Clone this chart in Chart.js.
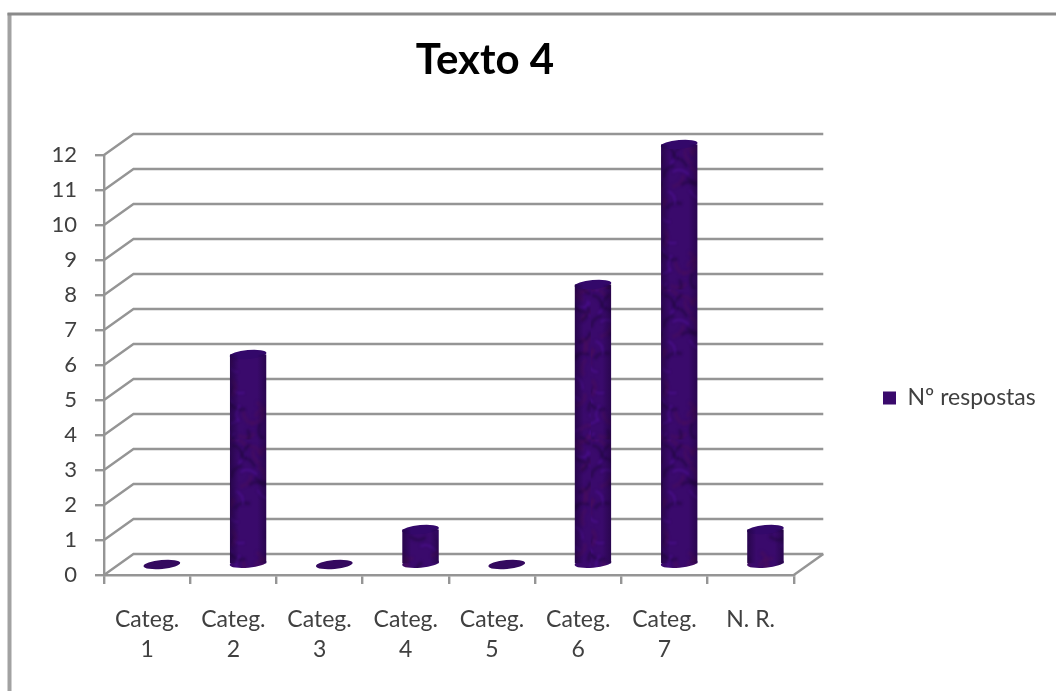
<!DOCTYPE html>
<html lang="pt">
<head>
<meta charset="utf-8">
<title>Texto 4</title>
<script src="https://cdn.jsdelivr.net/npm/chart.js@4/dist/chart.umd.min.js"></script>
<style>
  html, body { margin: 0; padding: 0; background: #fff; }
  #wrap { position: relative; width: 1056px; height: 691px; overflow: hidden; }
  canvas { display: block; }
</style>
</head>
<body>
<div id="wrap"><canvas id="chart" width="1056" height="691"></canvas></div>
<script>
const categories = [['Categ.', '1'], ['Categ.', '2'], ['Categ.', '3'], ['Categ.', '4'],
                    ['Categ.', '5'], ['Categ.', '6'], ['Categ.', '7'], 'N. R.'];
const respostas = [0, 6, 0, 1, 0, 8, 12, 1];
const seriesName = 'Nº respostas';
const chartTitle = 'Texto 4';

// Oblique projection of the 3D box: how far the back wall sits from the front plane.
const DEPTH_X = 29.5;
const DEPTH_Y = -21;
const GRID = '#959595';
const TEXT = '#404040';
const FONT = 'Lato, Carlito, "Open Sans", sans-serif';

// Mottled purple fill for the cylinders, built from fixed sine-driven veins.
function marbleTile() {
  const c = document.createElement('canvas');
  c.width = 72; c.height = 150;
  const g = c.getContext('2d');
  g.fillStyle = '#3a0a6c';
  g.fillRect(0, 0, c.width, c.height);
  g.filter = 'blur(1.2px)';
  for (let i = 0; i < 80; i++) {
    const x = 36 + 36 * Math.sin(i * 12.9898);
    const y = 75 + 75 * Math.sin(i * 78.233);
    const a = i * 2.4;
    g.strokeStyle = i % 3 === 0 ? 'rgba(88,20,170,0.45)'
                  : i % 3 === 1 ? 'rgba(26,6,50,0.42)' : 'rgba(78,14,88,0.4)';
    g.lineWidth = 2 + (i % 3);
    g.beginPath();
    g.moveTo(x, y);
    g.quadraticCurveTo(x + 9 * Math.cos(a), y + 9 * Math.sin(a),
                       x + 16 * Math.cos(a + 0.8), y + 16 * Math.sin(a + 0.8));
    g.stroke();
  }
  return c;
}
const ctx0 = document.getElementById('chart').getContext('2d');
const marble = ctx0.createPattern(marbleTile(), 'repeat');

// Page frame around the chart, open at the right and bottom.
const framePlugin = {
  id: 'frame',
  beforeDraw(chart) {
    const c = chart.ctx;
    c.save();
    c.fillStyle = '#a2a2a2';
    c.fillRect(7.5, 13, 4, chart.height - 13);
    c.fillStyle = '#8a8a8a';
    c.fillRect(7.5, 12.5, chart.width - 7.5, 3);
    c.restore();
  }
};

// Places the title and legend where the page layout wants them.
const placementPlugin = {
  id: 'placement',
  afterLayout(chart) {
    const t = chart.titleBlock;
    const shift = 485 - (t.left + t.right) / 2;
    t.left += shift; t.right += shift;
    const l = chart.legend;
    const p = l.options.labels.padding;
    const w = l.width, h = l.height;
    l.left = 883 - p; l.right = l.left + w;
    l.top = 398 - h / 2; l.bottom = l.top + h;
  }
};

// Draws the receding walls and floor, then moves the cylinders to mid-depth.
const boxPlugin = {
  id: 'box3d',
  beforeDatasetsDraw(chart) {
    const c = chart.ctx;
    const { x, y } = chart.scales;
    c.save();
    c.strokeStyle = GRID;
    c.lineWidth = 2.4;
    const left = x.left, right = x.right;
    y.ticks.forEach(tick => {
      const py = y.getPixelForValue(tick.value);
      c.beginPath();
      c.moveTo(left, py);
      c.lineTo(left + DEPTH_X, py + DEPTH_Y);
      c.lineTo(right + DEPTH_X, py + DEPTH_Y);
      c.stroke();
    });
    const base = y.getPixelForValue(0);
    c.beginPath();
    c.moveTo(right, base);
    c.lineTo(right + DEPTH_X, base + DEPTH_Y);
    c.stroke();
    c.restore();
    c.save();
    c.translate(DEPTH_X / 2, DEPTH_Y / 2);
  },
  afterDatasetsDraw(chart) {
    const c = chart.ctx;
    const bars = chart.getDatasetMeta(0).data;
    bars.forEach((bar, i) => {
      const half = bar.width / 2;
      const rx = half + 0.3, ry = 4.4, tilt = -0.09;
      const ellipse = (cy, fill) => {
        c.beginPath();
        c.ellipse(bar.x, cy, rx, ry, tilt, 0, Math.PI * 2);
        c.fillStyle = fill;
        c.fill();
      };
      if (respostas[i] === 0) {
        ellipse(bar.base, '#34095f');
        return;
      }
      ellipse(bar.base, marble);
      ellipse(bar.y, '#33086a');
      // Rounded shading across the cylinder's width.
      const g = c.createLinearGradient(bar.x - half, 0, bar.x + half, 0);
      g.addColorStop(0, 'rgba(22,2,44,0.5)');
      g.addColorStop(0.25, 'rgba(22,2,44,0)');
      g.addColorStop(0.75, 'rgba(22,2,44,0)');
      g.addColorStop(1, 'rgba(22,2,44,0.45)');
      c.fillStyle = g;
      c.fillRect(bar.x - half, bar.y, bar.width, bar.base - bar.y);
    });
    c.restore();
  }
};

new Chart(ctx0, {
  type: 'bar',
  plugins: [framePlugin, placementPlugin, boxPlugin],
  data: {
    labels: categories,
    datasets: [{
      label: seriesName,
      data: respostas,
      backgroundColor: marble,
      borderWidth: 0,
      clip: false,
      categoryPercentage: 1,
      barPercentage: 0.42
    }]
  },
  options: {
    responsive: false,
    animation: false,
    layout: { padding: { left: 0, top: 0, bottom: 0, right: 89.5 } },
    plugins: {
      tooltip: { enabled: false },
      title: {
        display: true,
        text: chartTitle,
        color: '#000',
        font: { family: FONT, size: 42, weight: 'bold', lineHeight: 1.2 },
        padding: { top: 35, bottom: 69.6 }
      },
      legend: {
        position: 'right',
        labels: {
          boxWidth: 13,
          boxHeight: 13,
          padding: 10,
          color: TEXT,
          font: { family: FONT, size: 23 }
        }
      }
    },
    scales: {
      x: {
        type: 'category',
        afterFit(s) { s.height = 116; },
        border: { display: true, color: GRID, width: 2.4 },
        grid: { drawOnChartArea: false, drawTicks: true, tickLength: 9, tickColor: GRID, lineWidth: 2.4, offset: true },
        ticks: {
          color: TEXT,
          padding: 20,
          autoSkip: false,
          maxRotation: 0,
          font: { family: FONT, size: 23, lineHeight: 1.32 }
        }
      },
      y: {
        min: 0,
        max: 12,
        afterFit(s) { s.width = 104; },
        border: { display: true, color: GRID, width: 2.4 },
        grid: { drawOnChartArea: false, drawTicks: true, tickLength: 9, tickColor: GRID, lineWidth: 2.4 },
        ticks: {
          stepSize: 1,
          color: TEXT,
          padding: 18,
          font: { family: FONT, size: 22 }
        }
      }
    }
  }
});
</script>
</body>
</html>
